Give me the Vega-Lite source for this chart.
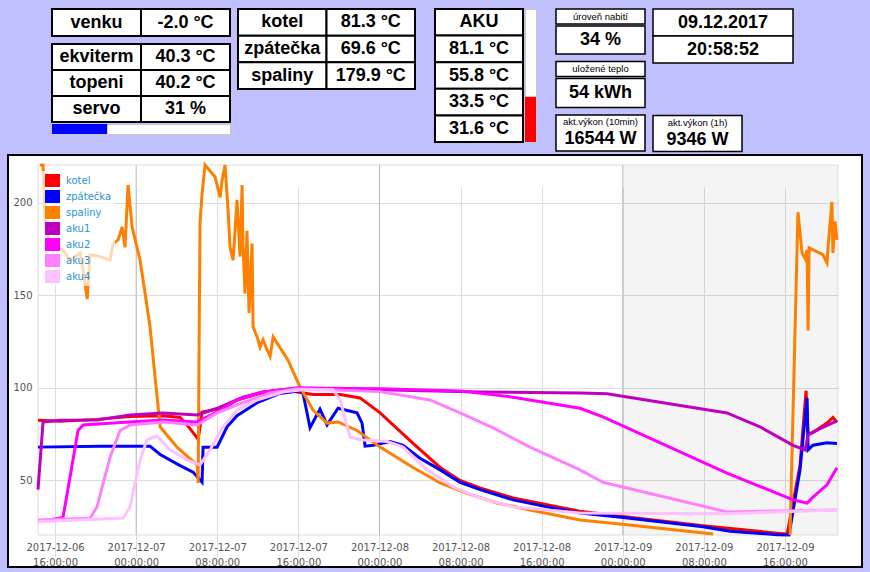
{
  "$schema": "https://vega.github.io/schema/vega-lite/v6.json",
  "background": "#c0c0ff",
  "padding": {"left": 7, "top": 5, "right": 7, "bottom": 4},
  "spacing": 1,
  "config": {
    "view": {"stroke": null},
    "text": {"font": "Liberation Sans", "fontSize": 18, "fontWeight": "bold", "color": "black"}
  },
  "vconcat": [
    {
      "hconcat": [
        {"width": 25, "height": 10, "data": {"values": [{"t": ""}]}, "mark": {"type": "text"}, "encoding": {"text": {"field": "t"}}},
        {
          "hconcat": [
            {
              "vconcat": [
                {
                  "width": 178, "height": 27,
                  "data": {"values": [
                    {"r": "venku", "c": "k", "t": "venku"},
                    {"r": "venku", "c": "v", "t": "-2.0 °C"}
                  ]},
                  "encoding": {
                    "x": {"field": "c", "type": "nominal", "sort": null, "axis": null, "scale": {"paddingInner": 0, "paddingOuter": 0}},
                    "y": {"field": "r", "type": "nominal", "sort": null, "axis": null, "scale": {"paddingInner": 0, "paddingOuter": 0}}
                  },
                  "layer": [
                    {"mark": {"type": "rect", "fill": "white", "stroke": "black", "strokeWidth": 2}},
                    {"mark": {"type": "text"}, "encoding": {"text": {"field": "t"}}}
                  ]
                },
                {
                  "vconcat": [
                    {
                      "width": 178, "height": 78,
                      "data": {"values": [
                        {"r": "ekviterm", "c": "k", "t": "ekviterm"},
                        {"r": "ekviterm", "c": "v", "t": "40.3 °C"},
                        {"r": "topeni", "c": "k", "t": "topeni"},
                        {"r": "topeni", "c": "v", "t": "40.2 °C"},
                        {"r": "servo", "c": "k", "t": "servo"},
                        {"r": "servo", "c": "v", "t": "31 %"}
                      ]},
                      "encoding": {
                        "x": {"field": "c", "type": "nominal", "sort": null, "axis": null, "scale": {"paddingInner": 0, "paddingOuter": 0}},
                        "y": {"field": "r", "type": "nominal", "sort": null, "axis": null, "scale": {"paddingInner": 0, "paddingOuter": 0}}
                      },
                      "layer": [
                        {"mark": {"type": "rect", "fill": "white", "stroke": "black", "strokeWidth": 2}},
                        {"mark": {"type": "text"}, "encoding": {"text": {"field": "t"}}}
                      ]
                    },
                    {
                      "width": 178, "height": 10,
                      "view": {"fill": "white", "stroke": "#c8c8c8"},
                      "data": {"values": [{"r": "servo", "lo": 0, "pct": 31}]},
                      "mark": {"type": "rect", "fill": "#0000ff"},
                      "encoding": {
                        "x": {"field": "lo", "type": "quantitative", "axis": null, "scale": {"domain": [0, 100], "nice": false}},
                        "x2": {"field": "pct"},
                        "y": {"field": "r", "type": "nominal", "axis": null, "scale": {"paddingInner": 0, "paddingOuter": 0}}
                      }
                    }
                  ],
                  "spacing": 0
                }
              ],
              "spacing": 6
            },
            {
              "width": 177, "height": 80,
              "data": {"values": [
                {"r": "kotel", "c": "k", "t": "kotel"},
                {"r": "kotel", "c": "v", "t": "81.3 °C"},
                {"r": "zpátečka", "c": "k", "t": "zpátečka"},
                {"r": "zpátečka", "c": "v", "t": "69.6 °C"},
                {"r": "spaliny", "c": "k", "t": "spaliny"},
                {"r": "spaliny", "c": "v", "t": "179.9 °C"}
              ]},
              "encoding": {
                "x": {"field": "c", "type": "nominal", "sort": null, "axis": null, "scale": {"paddingInner": 0, "paddingOuter": 0}},
                "y": {"field": "r", "type": "nominal", "sort": null, "axis": null, "scale": {"paddingInner": 0, "paddingOuter": 0}}
              },
              "layer": [
                {"mark": {"type": "rect", "fill": "white", "stroke": "black", "strokeWidth": 2}},
                {"mark": {"type": "text"}, "encoding": {"text": {"field": "t"}}}
              ]
            }
          ],
          "spacing": 6
        },
        {
          "hconcat": [
            {
              "width": 88, "height": 133,
              "data": {"values": [
                {"c": "v", "t": "AKU"}, {"c": "v", "t": "81.1 °C"}, {"c": "v", "t": "55.8 °C"},
                {"c": "v", "t": "33.5 °C"}, {"c": "v", "t": "31.6 °C"}
              ]},
              "encoding": {
                "x": {"field": "c", "type": "nominal", "axis": null, "scale": {"paddingInner": 0, "paddingOuter": 0}},
                "y": {"field": "t", "type": "nominal", "sort": null, "axis": null, "scale": {"paddingInner": 0, "paddingOuter": 0}}
              },
              "layer": [
                {"mark": {"type": "rect", "fill": "white", "stroke": "black", "strokeWidth": 2}},
                {"mark": {"type": "text"}, "encoding": {"text": {"field": "t"}}}
              ]
            },
            {
              "width": 11, "height": 133,
              "view": {"fill": "white", "stroke": "#c8c8c8"},
              "data": {"values": [{"c": "aku", "lo": 0, "pct": 34}]},
              "mark": {"type": "rect", "fill": "#ff0000"},
              "encoding": {
                "x": {"field": "c", "type": "nominal", "axis": null, "scale": {"paddingInner": 0, "paddingOuter": 0}},
                "y": {"field": "lo", "type": "quantitative", "axis": null, "scale": {"domain": [0, 100], "nice": false}},
                "y2": {"field": "pct"}
              }
            }
          ],
          "spacing": 0
        },
        {
          "hconcat": [
            {
              "vconcat": [
                {
                  "vconcat": [
                    {
                      "width": 89, "height": 15,
                      "view": {"fill": "white", "stroke": "black", "strokeWidth": 1.5},
                      "data": {"values": [{"t": "úroveň nabití"}]},
                      "mark": {"type": "text", "fontSize": 9.5, "fontWeight": "normal"},
                      "encoding": {"text": {"field": "t"}}
                    },
                    {
                      "width": 89, "height": 28,
                      "view": {"fill": "white", "stroke": "black", "strokeWidth": 1.5},
                      "data": {"values": [{"t": "34 %"}]},
                      "mark": {"type": "text"},
                      "encoding": {"text": {"field": "t"}}
                    }
                  ],
                  "spacing": 0
                },
                {
                  "vconcat": [
                    {
                      "width": 89, "height": 15,
                      "view": {"fill": "white", "stroke": "black", "strokeWidth": 1.5},
                      "data": {"values": [{"t": "uložené teplo"}]},
                      "mark": {"type": "text", "fontSize": 9.5, "fontWeight": "normal"},
                      "encoding": {"text": {"field": "t"}}
                    },
                    {
                      "width": 89, "height": 29,
                      "view": {"fill": "white", "stroke": "black", "strokeWidth": 1.5},
                      "data": {"values": [{"t": "54 kWh"}]},
                      "mark": {"type": "text"},
                      "encoding": {"text": {"field": "t"}}
                    }
                  ],
                  "spacing": 0
                },
                {
                  "width": 89, "height": 36,
                  "view": {"fill": "white", "stroke": "black", "strokeWidth": 1.5},
                  "data": {"values": [{"lbl": "akt.výkon (10min)", "val": "16544 W"}]},
                  "layer": [
                    {"mark": {"type": "text", "fontSize": 9.5, "fontWeight": "normal", "dy": -11}, "encoding": {"text": {"field": "lbl"}}},
                    {"mark": {"type": "text", "dy": 6}, "encoding": {"text": {"field": "val"}}}
                  ]
                }
              ],
              "spacing": 5.5
            },
            {
              "vconcat": [
                {
                  "width": 140, "height": 54,
                  "data": {"values": [{"c": "v", "t": "09.12.2017"}, {"c": "v", "t": "20:58:52"}]},
                  "encoding": {
                    "x": {"field": "c", "type": "nominal", "axis": null, "scale": {"paddingInner": 0, "paddingOuter": 0}},
                    "y": {"field": "t", "type": "nominal", "sort": null, "axis": null, "scale": {"paddingInner": 0, "paddingOuter": 0}}
                  },
                  "layer": [
                    {"mark": {"type": "rect", "fill": "white", "stroke": "black", "strokeWidth": 1.5}},
                    {"mark": {"type": "text"}, "encoding": {"text": {"field": "t"}}}
                  ]
                },
                {
                  "width": 89, "height": 36,
                  "view": {"fill": "white", "stroke": "black", "strokeWidth": 1.5},
                  "data": {"values": [{"lbl": "akt.výkon (1h)", "val": "9346 W"}]},
                  "layer": [
                    {"mark": {"type": "text", "fontSize": 9.5, "fontWeight": "normal", "dy": -11}, "encoding": {"text": {"field": "lbl"}}},
                    {"mark": {"type": "text", "dy": 6}, "encoding": {"text": {"field": "val"}}}
                  ]
                }
              ],
              "spacing": 50.5
            }
          ],
          "spacing": 6
        }
      ],
      "spacing": 18
    },
    {
      "width": 854, "height": 412,
      "view": {"fill": "white", "stroke": "black", "strokeWidth": 2},
      "layer": [
        {
          "data": {"values": [{"t": "2017-12-09T00:00", "t2": "2017-12-09T21:14", "lo": 20.5, "hi": 220.5}]},
          "mark": {"type": "rect", "fill": "#000000", "fillOpacity": 0.045},
          "encoding": {
            "x": {"field": "t", "type": "temporal"},
            "x2": {"field": "t2"},
            "y": {"field": "lo", "type": "quantitative"},
            "y2": {"field": "hi"}
          }
        },
        {
          "data": {"values": [{"t": "2017-12-06T14:19", "t2": "2017-12-09T21:14", "lo": 20.5, "hi": 220.5}]},
          "mark": {"type": "rect", "fill": "transparent", "stroke": "#dcdcdc", "strokeWidth": 1},
          "encoding": {
            "x": {"field": "t", "type": "temporal"},
            "x2": {"field": "t2"},
            "y": {"field": "lo", "type": "quantitative"},
            "y2": {"field": "hi"}
          }
        },
        {
          "data": {"values": [
            {"t": "2017-12-07T00:00", "lo": 20.5, "hi": 220.5},
            {"t": "2017-12-08T00:00", "lo": 20.5, "hi": 220.5},
            {"t": "2017-12-09T00:00", "lo": 20.5, "hi": 220.5}
          ]},
          "mark": {"type": "rule", "color": "#bbbbbb", "strokeWidth": 1},
          "encoding": {
            "x": {"field": "t", "type": "temporal"},
            "y": {"field": "lo", "type": "quantitative"},
            "y2": {"field": "hi"}
          }
        },
        {
          "data": {"values": [
            {"t": "2017-12-06T14:19", "s": "kotel", "v": 82.5},
            {"t": "2017-12-06T16:30", "s": "kotel", "v": 82},
            {"t": "2017-12-06T20:08", "s": "kotel", "v": 83},
            {"t": "2017-12-06T23:24", "s": "kotel", "v": 84.5},
            {"t": "2017-12-07T02:39", "s": "kotel", "v": 85},
            {"t": "2017-12-07T04:20", "s": "kotel", "v": 84},
            {"t": "2017-12-07T05:01", "s": "kotel", "v": 80},
            {"t": "2017-12-07T06:01", "s": "kotel", "v": 73},
            {"t": "2017-12-07T06:07", "s": "kotel", "v": 72},
            {"t": "2017-12-07T06:30", "s": "kotel", "v": 87},
            {"t": "2017-12-07T07:59", "s": "kotel", "v": 88.5},
            {"t": "2017-12-07T08:34", "s": "kotel", "v": 89},
            {"t": "2017-12-07T09:57", "s": "kotel", "v": 93.5},
            {"t": "2017-12-07T10:56", "s": "kotel", "v": 95},
            {"t": "2017-12-07T12:31", "s": "kotel", "v": 97.5},
            {"t": "2017-12-07T14:29", "s": "kotel", "v": 99},
            {"t": "2017-12-07T16:10", "s": "kotel", "v": 97.5},
            {"t": "2017-12-07T17:27", "s": "kotel", "v": 96.5},
            {"t": "2017-12-07T20:07", "s": "kotel", "v": 96.5},
            {"t": "2017-12-07T22:05", "s": "kotel", "v": 94.6},
            {"t": "2017-12-08T00:04", "s": "kotel", "v": 86.5},
            {"t": "2017-12-08T03:19", "s": "kotel", "v": 70},
            {"t": "2017-12-08T05:59", "s": "kotel", "v": 57},
            {"t": "2017-12-08T07:57", "s": "kotel", "v": 50},
            {"t": "2017-12-08T09:55", "s": "kotel", "v": 46},
            {"t": "2017-12-08T13:11", "s": "kotel", "v": 40.5},
            {"t": "2017-12-08T16:32", "s": "kotel", "v": 36.8},
            {"t": "2017-12-08T19:47", "s": "kotel", "v": 33.3},
            {"t": "2017-12-09T00:02", "s": "kotel", "v": 30.5},
            {"t": "2017-12-09T07:55", "s": "kotel", "v": 25.5},
            {"t": "2017-12-09T15:13", "s": "kotel", "v": 21.5},
            {"t": "2017-12-09T16:13", "s": "kotel", "v": 21},
            {"t": "2017-12-09T17:29", "s": "kotel", "v": 58},
            {"t": "2017-12-09T18:05", "s": "kotel", "v": 98.5},
            {"t": "2017-12-09T18:17", "s": "kotel", "v": 75},
            {"t": "2017-12-09T18:46", "s": "kotel", "v": 76},
            {"t": "2017-12-09T20:09", "s": "kotel", "v": 81},
            {"t": "2017-12-09T20:44", "s": "kotel", "v": 84},
            {"t": "2017-12-09T21:08", "s": "kotel", "v": 81.5},

            {"t": "2017-12-06T14:19", "s": "zpátečka", "v": 68},
            {"t": "2017-12-06T20:26", "s": "zpátečka", "v": 68.5},
            {"t": "2017-12-07T01:22", "s": "zpátečka", "v": 68.5},
            {"t": "2017-12-07T02:22", "s": "zpátečka", "v": 64},
            {"t": "2017-12-07T04:20", "s": "zpátečka", "v": 58},
            {"t": "2017-12-07T05:37", "s": "zpátečka", "v": 54.5},
            {"t": "2017-12-07T06:30", "s": "zpátečka", "v": 49},
            {"t": "2017-12-07T06:36", "s": "zpátečka", "v": 68},
            {"t": "2017-12-07T07:59", "s": "zpátečka", "v": 68},
            {"t": "2017-12-07T08:58", "s": "zpátečka", "v": 79},
            {"t": "2017-12-07T09:57", "s": "zpátečka", "v": 85},
            {"t": "2017-12-07T11:56", "s": "zpátečka", "v": 92},
            {"t": "2017-12-07T14:11", "s": "zpátečka", "v": 97},
            {"t": "2017-12-07T16:10", "s": "zpátečka", "v": 98.5},
            {"t": "2017-12-07T16:28", "s": "zpátečka", "v": 97},
            {"t": "2017-12-07T17:09", "s": "zpátečka", "v": 78.5},
            {"t": "2017-12-07T18:08", "s": "zpátečka", "v": 88.5},
            {"t": "2017-12-07T18:50", "s": "zpátečka", "v": 80},
            {"t": "2017-12-07T19:55", "s": "zpátečka", "v": 89},
            {"t": "2017-12-07T21:47", "s": "zpátečka", "v": 86.5},
            {"t": "2017-12-07T22:17", "s": "zpátečka", "v": 81},
            {"t": "2017-12-07T22:35", "s": "zpátečka", "v": 68.5},
            {"t": "2017-12-07T23:23", "s": "zpátečka", "v": 69},
            {"t": "2017-12-08T01:03", "s": "zpátečka", "v": 71},
            {"t": "2017-12-08T02:20", "s": "zpátečka", "v": 69},
            {"t": "2017-12-08T04:00", "s": "zpátečka", "v": 62},
            {"t": "2017-12-08T05:59", "s": "zpátečka", "v": 55.7},
            {"t": "2017-12-08T07:57", "s": "zpátečka", "v": 49},
            {"t": "2017-12-08T09:55", "s": "zpátečka", "v": 45},
            {"t": "2017-12-08T13:11", "s": "zpátečka", "v": 39.5},
            {"t": "2017-12-08T16:32", "s": "zpátečka", "v": 35.7},
            {"t": "2017-12-08T19:47", "s": "zpátečka", "v": 32.4},
            {"t": "2017-12-09T00:02", "s": "zpátečka", "v": 30},
            {"t": "2017-12-09T07:55", "s": "zpátečka", "v": 25},
            {"t": "2017-12-09T10:35", "s": "zpátečka", "v": 22.5},
            {"t": "2017-12-09T15:13", "s": "zpátečka", "v": 20.7},
            {"t": "2017-12-09T16:24", "s": "zpátečka", "v": 20.5},
            {"t": "2017-12-09T17:29", "s": "zpátečka", "v": 55.7},
            {"t": "2017-12-09T18:11", "s": "zpátečka", "v": 94.6},
            {"t": "2017-12-09T18:17", "s": "zpátečka", "v": 66.5},
            {"t": "2017-12-09T18:46", "s": "zpátečka", "v": 69},
            {"t": "2017-12-09T20:09", "s": "zpátečka", "v": 70.3},
            {"t": "2017-12-09T21:08", "s": "zpátečka", "v": 70},

            {"t": "2017-12-06T14:31", "s": "spaliny", "g": "a", "v": 225},
            {"t": "2017-12-06T14:49", "s": "spaliny", "g": "a", "v": 222},
            {"t": "2017-12-06T15:01", "s": "spaliny", "g": "a", "v": 190},
            {"t": "2017-12-06T15:31", "s": "spaliny", "g": "a", "v": 178},
            {"t": "2017-12-06T16:47", "s": "spaliny", "g": "a", "v": 174.5},
            {"t": "2017-12-06T17:29", "s": "spaliny", "g": "a", "v": 169},
            {"t": "2017-12-06T18:28", "s": "spaliny", "g": "a", "v": 173},
            {"t": "2017-12-06T18:46", "s": "spaliny", "g": "a", "v": 164},
            {"t": "2017-12-06T19:10", "s": "spaliny", "g": "a", "v": 148},
            {"t": "2017-12-06T19:27", "s": "spaliny", "g": "a", "v": 172},
            {"t": "2017-12-06T20:26", "s": "spaliny", "g": "a", "v": 171},
            {"t": "2017-12-06T21:26", "s": "spaliny", "g": "a", "v": 169},
            {"t": "2017-12-06T21:43", "s": "spaliny", "g": "a", "v": 178},
            {"t": "2017-12-06T22:13", "s": "spaliny", "g": "a", "v": 180},
            {"t": "2017-12-06T22:37", "s": "spaliny", "g": "a", "v": 187},
            {"t": "2017-12-06T22:54", "s": "spaliny", "g": "a", "v": 176},
            {"t": "2017-12-06T23:12", "s": "spaliny", "g": "a", "v": 209.7},
            {"t": "2017-12-06T23:36", "s": "spaliny", "g": "a", "v": 187},
            {"t": "2017-12-07T00:05", "s": "spaliny", "g": "a", "v": 176},
            {"t": "2017-12-07T00:23", "s": "spaliny", "g": "a", "v": 169},
            {"t": "2017-12-07T00:53", "s": "spaliny", "g": "a", "v": 151},
            {"t": "2017-12-07T01:22", "s": "spaliny", "g": "a", "v": 133},
            {"t": "2017-12-07T01:52", "s": "spaliny", "g": "a", "v": 106},
            {"t": "2017-12-07T02:22", "s": "spaliny", "g": "a", "v": 79},
            {"t": "2017-12-07T04:02", "s": "spaliny", "g": "a", "v": 68},
            {"t": "2017-12-07T06:01", "s": "spaliny", "g": "a", "v": 58.4},
            {"t": "2017-12-07T06:07", "s": "spaliny", "g": "a", "v": 48.6},
            {"t": "2017-12-07T06:12", "s": "spaliny", "g": "a", "v": 115},
            {"t": "2017-12-07T06:18", "s": "spaliny", "g": "a", "v": 189},
            {"t": "2017-12-07T06:30", "s": "spaliny", "g": "a", "v": 205},
            {"t": "2017-12-07T06:48", "s": "spaliny", "g": "a", "v": 225},
            {"t": "2017-12-07T07:47", "s": "spaliny", "g": "a", "v": 214},
            {"t": "2017-12-07T08:17", "s": "spaliny", "g": "a", "v": 203},
            {"t": "2017-12-07T08:28", "s": "spaliny", "g": "a", "v": 212},
            {"t": "2017-12-07T08:46", "s": "spaliny", "g": "a", "v": 225},
            {"t": "2017-12-07T09:04", "s": "spaliny", "g": "a", "v": 196},
            {"t": "2017-12-07T09:16", "s": "spaliny", "g": "a", "v": 176},
            {"t": "2017-12-07T09:34", "s": "spaliny", "g": "a", "v": 169},
            {"t": "2017-12-07T09:57", "s": "spaliny", "g": "a", "v": 201.6},
            {"t": "2017-12-07T10:15", "s": "spaliny", "g": "a", "v": 171},
            {"t": "2017-12-07T10:27", "s": "spaliny", "g": "a", "v": 209.7},
            {"t": "2017-12-07T10:32", "s": "spaliny", "g": "a", "v": 178},
            {"t": "2017-12-07T10:44", "s": "spaliny", "g": "a", "v": 151},
            {"t": "2017-12-07T10:56", "s": "spaliny", "g": "a", "v": 185},
            {"t": "2017-12-07T11:08", "s": "spaliny", "g": "a", "v": 140.5},
            {"t": "2017-12-07T11:26", "s": "spaliny", "g": "a", "v": 178},
            {"t": "2017-12-07T11:32", "s": "spaliny", "g": "a", "v": 133},
            {"t": "2017-12-07T11:56", "s": "spaliny", "g": "a", "v": 127.6},
            {"t": "2017-12-07T12:13", "s": "spaliny", "g": "a", "v": 122},
            {"t": "2017-12-07T12:31", "s": "spaliny", "g": "a", "v": 126},
            {"t": "2017-12-07T12:55", "s": "spaliny", "g": "a", "v": 120.5},
            {"t": "2017-12-07T13:13", "s": "spaliny", "g": "a", "v": 117},
            {"t": "2017-12-07T13:31", "s": "spaliny", "g": "a", "v": 127.6},
            {"t": "2017-12-07T14:59", "s": "spaliny", "g": "a", "v": 115},
            {"t": "2017-12-07T16:10", "s": "spaliny", "g": "a", "v": 100.5},
            {"t": "2017-12-07T17:27", "s": "spaliny", "g": "a", "v": 88},
            {"t": "2017-12-07T18:50", "s": "spaliny", "g": "a", "v": 81},
            {"t": "2017-12-07T19:55", "s": "spaliny", "g": "a", "v": 81.6},
            {"t": "2017-12-07T21:47", "s": "spaliny", "g": "a", "v": 77},
            {"t": "2017-12-08T00:04", "s": "spaliny", "g": "a", "v": 68},
            {"t": "2017-12-08T03:19", "s": "spaliny", "g": "a", "v": 57},
            {"t": "2017-12-08T05:59", "s": "spaliny", "g": "a", "v": 48.6},
            {"t": "2017-12-08T08:38", "s": "spaliny", "g": "a", "v": 43},
            {"t": "2017-12-08T11:36", "s": "spaliny", "g": "a", "v": 37.8},
            {"t": "2017-12-08T14:51", "s": "spaliny", "g": "a", "v": 34},
            {"t": "2017-12-08T19:47", "s": "spaliny", "g": "a", "v": 28.6},
            {"t": "2017-12-09T00:25", "s": "spaliny", "g": "a", "v": 26},
            {"t": "2017-12-09T08:55", "s": "spaliny", "g": "a", "v": 21},
            {"t": "2017-12-09T16:30", "s": "spaliny", "g": "b", "v": 20},
            {"t": "2017-12-09T17:17", "s": "spaliny", "g": "b", "v": 195},
            {"t": "2017-12-09T17:41", "s": "spaliny", "g": "b", "v": 173},
            {"t": "2017-12-09T17:59", "s": "spaliny", "g": "b", "v": 170},
            {"t": "2017-12-09T18:11", "s": "spaliny", "g": "b", "v": 174.6},
            {"t": "2017-12-09T18:17", "s": "spaliny", "g": "b", "v": 131},
            {"t": "2017-12-09T18:23", "s": "spaliny", "g": "b", "v": 175.7},
            {"t": "2017-12-09T19:45", "s": "spaliny", "g": "b", "v": 172},
            {"t": "2017-12-09T20:09", "s": "spaliny", "g": "b", "v": 167.6},
            {"t": "2017-12-09T20:15", "s": "spaliny", "g": "b", "v": 176},
            {"t": "2017-12-09T20:38", "s": "spaliny", "g": "b", "v": 200.5},
            {"t": "2017-12-09T20:44", "s": "spaliny", "g": "b", "v": 173},
            {"t": "2017-12-09T20:56", "s": "spaliny", "g": "b", "v": 190},
            {"t": "2017-12-09T21:08", "s": "spaliny", "g": "b", "v": 180},

            {"t": "2017-12-06T14:19", "s": "aku1", "v": 45},
            {"t": "2017-12-06T14:49", "s": "aku1", "v": 81.6},
            {"t": "2017-12-06T16:30", "s": "aku1", "v": 82.5},
            {"t": "2017-12-06T20:08", "s": "aku1", "v": 82.7},
            {"t": "2017-12-06T23:24", "s": "aku1", "v": 85.4},
            {"t": "2017-12-07T02:39", "s": "aku1", "v": 86.5},
            {"t": "2017-12-07T06:01", "s": "aku1", "v": 85.4},
            {"t": "2017-12-07T07:59", "s": "aku1", "v": 89},
            {"t": "2017-12-07T10:32", "s": "aku1", "v": 95},
            {"t": "2017-12-07T12:31", "s": "aku1", "v": 97.8},
            {"t": "2017-12-07T15:52", "s": "aku1", "v": 100},
            {"t": "2017-12-08T00:04", "s": "aku1", "v": 99},
            {"t": "2017-12-08T09:55", "s": "aku1", "v": 97.8},
            {"t": "2017-12-08T19:47", "s": "aku1", "v": 97.3},
            {"t": "2017-12-08T22:27", "s": "aku1", "v": 96.8},
            {"t": "2017-12-09T10:17", "s": "aku1", "v": 86.5},
            {"t": "2017-12-09T13:32", "s": "aku1", "v": 79},
            {"t": "2017-12-09T16:48", "s": "aku1", "v": 69},
            {"t": "2017-12-09T17:59", "s": "aku1", "v": 66.5},
            {"t": "2017-12-09T18:17", "s": "aku1", "v": 74.6},
            {"t": "2017-12-09T19:28", "s": "aku1", "v": 78},
            {"t": "2017-12-09T21:08", "s": "aku1", "v": 82.2},

            {"t": "2017-12-06T14:19", "s": "aku2", "v": 27.6},
            {"t": "2017-12-06T16:47", "s": "aku2", "v": 30},
            {"t": "2017-12-06T17:29", "s": "aku2", "v": 52},
            {"t": "2017-12-06T18:16", "s": "aku2", "v": 77},
            {"t": "2017-12-06T18:46", "s": "aku2", "v": 80},
            {"t": "2017-12-06T21:43", "s": "aku2", "v": 81},
            {"t": "2017-12-07T02:39", "s": "aku2", "v": 82.7},
            {"t": "2017-12-07T06:01", "s": "aku2", "v": 81.6},
            {"t": "2017-12-07T07:59", "s": "aku2", "v": 87},
            {"t": "2017-12-07T09:57", "s": "aku2", "v": 93.5},
            {"t": "2017-12-07T12:31", "s": "aku2", "v": 97.8},
            {"t": "2017-12-07T15:52", "s": "aku2", "v": 100},
            {"t": "2017-12-08T00:04", "s": "aku2", "v": 99.5},
            {"t": "2017-12-08T07:57", "s": "aku2", "v": 98.4},
            {"t": "2017-12-08T13:11", "s": "aku2", "v": 95},
            {"t": "2017-12-08T19:47", "s": "aku2", "v": 89},
            {"t": "2017-12-08T22:03", "s": "aku2", "v": 84.3},
            {"t": "2017-12-09T10:17", "s": "aku2", "v": 54},
            {"t": "2017-12-09T16:48", "s": "aku2", "v": 39.5},
            {"t": "2017-12-09T18:11", "s": "aku2", "v": 37.8},
            {"t": "2017-12-09T18:46", "s": "aku2", "v": 41},
            {"t": "2017-12-09T20:09", "s": "aku2", "v": 47.6},
            {"t": "2017-12-09T21:08", "s": "aku2", "v": 56.8},

            {"t": "2017-12-06T14:19", "s": "aku3", "v": 28.6},
            {"t": "2017-12-06T19:27", "s": "aku3", "v": 29.5},
            {"t": "2017-12-06T20:08", "s": "aku3", "v": 35.7},
            {"t": "2017-12-06T21:26", "s": "aku3", "v": 62.7},
            {"t": "2017-12-06T22:25", "s": "aku3", "v": 77},
            {"t": "2017-12-06T23:24", "s": "aku3", "v": 80},
            {"t": "2017-12-07T02:39", "s": "aku3", "v": 81.6},
            {"t": "2017-12-07T06:01", "s": "aku3", "v": 80},
            {"t": "2017-12-07T07:59", "s": "aku3", "v": 86.5},
            {"t": "2017-12-07T10:32", "s": "aku3", "v": 92},
            {"t": "2017-12-07T13:13", "s": "aku3", "v": 97.3},
            {"t": "2017-12-07T15:52", "s": "aku3", "v": 99.5},
            {"t": "2017-12-08T00:04", "s": "aku3", "v": 98},
            {"t": "2017-12-08T04:59", "s": "aku3", "v": 93.5},
            {"t": "2017-12-08T07:57", "s": "aku3", "v": 86.5},
            {"t": "2017-12-08T11:13", "s": "aku3", "v": 78.4},
            {"t": "2017-12-08T14:51", "s": "aku3", "v": 68},
            {"t": "2017-12-08T19:47", "s": "aku3", "v": 55.7},
            {"t": "2017-12-08T22:03", "s": "aku3", "v": 49},
            {"t": "2017-12-09T10:17", "s": "aku3", "v": 33},
            {"t": "2017-12-09T21:08", "s": "aku3", "v": 34},

            {"t": "2017-12-06T14:19", "s": "aku4", "v": 27.6},
            {"t": "2017-12-06T22:43", "s": "aku4", "v": 29.7},
            {"t": "2017-12-06T23:24", "s": "aku4", "v": 35.7},
            {"t": "2017-12-07T00:23", "s": "aku4", "v": 61},
            {"t": "2017-12-07T01:04", "s": "aku4", "v": 72},
            {"t": "2017-12-07T02:04", "s": "aku4", "v": 74},
            {"t": "2017-12-07T03:20", "s": "aku4", "v": 66.5},
            {"t": "2017-12-07T05:01", "s": "aku4", "v": 61},
            {"t": "2017-12-07T06:18", "s": "aku4", "v": 58.4},
            {"t": "2017-12-07T07:17", "s": "aku4", "v": 66.5},
            {"t": "2017-12-07T08:34", "s": "aku4", "v": 79},
            {"t": "2017-12-07T09:57", "s": "aku4", "v": 88},
            {"t": "2017-12-07T11:56", "s": "aku4", "v": 93.5},
            {"t": "2017-12-07T14:29", "s": "aku4", "v": 97.8},
            {"t": "2017-12-07T16:28", "s": "aku4", "v": 99},
            {"t": "2017-12-07T19:25", "s": "aku4", "v": 99},
            {"t": "2017-12-07T20:07", "s": "aku4", "v": 93.5},
            {"t": "2017-12-07T21:06", "s": "aku4", "v": 73.5},
            {"t": "2017-12-07T22:05", "s": "aku4", "v": 72},
            {"t": "2017-12-08T00:46", "s": "aku4", "v": 71},
            {"t": "2017-12-08T02:20", "s": "aku4", "v": 68},
            {"t": "2017-12-08T04:41", "s": "aku4", "v": 55.7},
            {"t": "2017-12-08T07:16", "s": "aku4", "v": 46.5},
            {"t": "2017-12-08T09:55", "s": "aku4", "v": 40.5},
            {"t": "2017-12-08T13:11", "s": "aku4", "v": 35.7},
            {"t": "2017-12-08T19:47", "s": "aku4", "v": 32.4},
            {"t": "2017-12-09T10:17", "s": "aku4", "v": 32},
            {"t": "2017-12-09T21:08", "s": "aku4", "v": 34}
          ]},
          "mark": {"type": "line", "strokeWidth": 3},
          "encoding": {
            "x": {
              "field": "t", "type": "temporal",
              "scale": {"type": "time", "range": [30, 830], "nice": false},
              "axis": {
                "orient": "bottom", "offset": -32, "title": null, "domain": false, "ticks": false,
                "values": [
                  {"year": 2017, "month": 12, "date": 6, "hours": 16},
                  {"year": 2017, "month": 12, "date": 7, "hours": 0},
                  {"year": 2017, "month": 12, "date": 7, "hours": 8},
                  {"year": 2017, "month": 12, "date": 7, "hours": 16},
                  {"year": 2017, "month": 12, "date": 8, "hours": 0},
                  {"year": 2017, "month": 12, "date": 8, "hours": 8},
                  {"year": 2017, "month": 12, "date": 8, "hours": 16},
                  {"year": 2017, "month": 12, "date": 9, "hours": 0},
                  {"year": 2017, "month": 12, "date": 9, "hours": 8},
                  {"year": 2017, "month": 12, "date": 9, "hours": 16}
                ],
                "format": "%Y-%m-%d|%H:%M:%S",
                "labelExpr": "split(datum.label, '|')",
                "labelFont": "DejaVu Sans", "labelFontSize": 10, "labelColor": "#555555",
                "labelPadding": 7, "labelLineHeight": 15, "labelFlush": false, "labelOverlap": false,
                "gridColor": "#dddddd"
              }
            },
            "y": {
              "field": "v", "type": "quantitative",
              "scale": {"domain": [20.5, 220.5], "range": [380, 10], "nice": false, "zero": false, "clamp": true},
              "axis": {
                "orient": "left", "offset": -30, "title": null, "domain": false, "ticks": false,
                "values": [50, 100, 150, 200], "labelPadding": 6,
                "labelFont": "DejaVu Sans", "labelFontSize": 10, "labelColor": "#555555",
                "gridColor": "#dddddd"
              }
            },
            "detail": {"field": "g", "type": "nominal"},
            "color": {
              "field": "s", "type": "nominal",
              "scale": {
                "domain": ["kotel", "zpátečka", "spaliny", "aku1", "aku2", "aku3", "aku4"],
                "range": ["#ff0000", "#0000ff", "#ff8000", "#c000c0", "#ff00ff", "#ff80ff", "#ffc0ff"]
              },
              "legend": {
                "orient": "none", "legendX": 34, "legendY": 162, "title": null, "padding": 3,
                "fillColor": "rgba(255,255,255,0.7)",
                "symbolType": "square", "symbolSize": 16, "symbolStrokeWidth": 11,
                "clipHeight": 13, "rowPadding": 3,
                "labelFont": "DejaVu Sans", "labelFontSize": 10, "labelColor": "#2b95d0",
                "labelOffset": 6
              }
            }
          }
        }
      ]
    }
  ]
}
